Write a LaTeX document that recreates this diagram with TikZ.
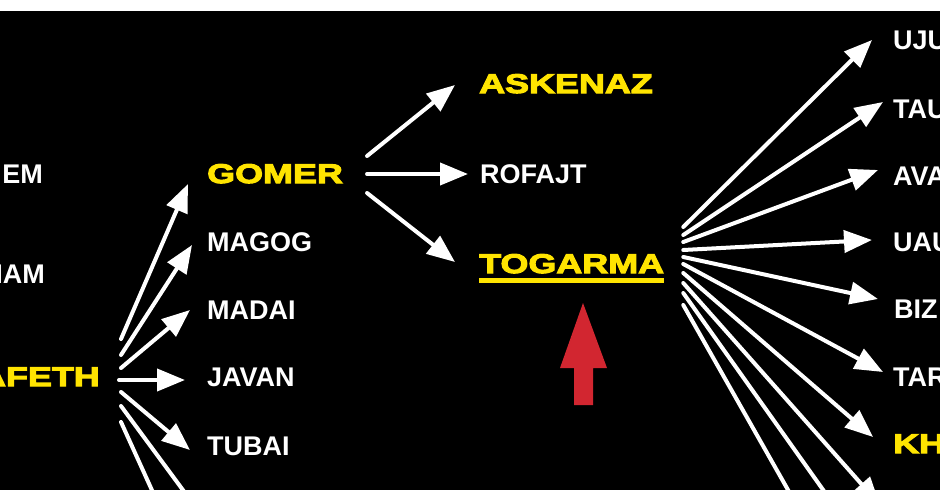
\documentclass[tikz,border=0pt]{standalone}
\usepackage{fontspec}
\setmainfont{Liberation Sans}
\newfontfamily\widebold[FakeStretch=1.33]{Liberation Sans Bold}
\newcommand\heavyink{\special{pdf:literal direct 2 Tr 1.1 w}}
\usetikzlibrary{arrows.meta}
\definecolor{namegold}{RGB}{255,228,0}
\definecolor{alarm}{RGB}{210,38,48}
\tikzstyle{person}=[anchor=base west,inner sep=0pt,text=white,font=\fontsize{27}{27}\selectfont\bfseries]
\tikzstyle{elder}=[person,text=namegold,font=\fontsize{27}{27}\selectfont\widebold\heavyink]
\tikzstyle{edge}=[draw,white,line width=4pt,line cap=round,->,>={Triangle[length=28pt,width=22pt]}]
\begin{document}
\begin{tikzpicture}[x=1pt,y=-1pt]
      \clip (0,0) rectangle (940,490);
      \fill[white] (0,0) rectangle (940,11);
      \fill[black] (0,11) rectangle (940,490);
      % left column, cut at the edge
      \node[person,anchor=base east] (sem) at (43,183) {EM};
      \node[person,anchor=base east] (ham) at (45,283) {IAM};
      \node[elder,anchor=base east] (jafeth) at (100,386) {AFETH};
      % sons of jafeth
      \node[elder] (gomer) at (207,183) {GOMER};
      \node[person] (magog) at (207,251) {MAGOG};
      \node[person] (madai) at (207,319) {MADAI};
      \node[person] (javan) at (207,386) {JAVAN};
      \node[person] (tubai) at (207,455) {TUBAI};
      \coordinate (jaf6) at (205,520);
      \coordinate (jaf7) at (195,585);
      % sons of gomer
      \node[elder] (askenaz) at (479,93) {ASKENAZ};
      \node[person] (rofajt) at (480,183) {ROFAJT};
      \node[elder] (togarma) at (479,273) {TOGARMA};
      \draw[namegold,line width=5pt] ([yshift=-7.5pt]togarma.base west) -- ([yshift=-7.5pt]togarma.base east);
      % sons of togarma, cut at the edge
      \node[person] (uju) at (893,49) {UJU};
      \node[person] (tau) at (893,118) {TAU};
      \node[person] (ava) at (893,185) {AVA};
      \node[person] (uau) at (893,251) {UAU};
      \node[person] (biz) at (894,318) {BIZ};
      \node[person] (tar) at (893,386) {TAR};
      \node[elder] (kh) at (893,453) {KH};
      \coordinate (tog8) at (880,505);
      \coordinate (tog9) at (880,570);
      \coordinate (tog10) at (873,640);
      \draw[edge] ([xshift=21pt,yshift=47pt]jafeth.base east) to ([xshift=-19pt,yshift=-1pt]gomer.base west);
      \draw[edge] ([xshift=21pt,yshift=31pt]jafeth.base east) to ([xshift=-15pt,yshift=6pt]magog.base west);
      \draw[edge] ([xshift=21pt,yshift=18pt]jafeth.base east) to ([xshift=-17pt,yshift=9pt]madai.base west);
      \draw[edge] ([xshift=19pt,yshift=6pt]jafeth.base east) to ([xshift=-22pt,yshift=6pt]javan.base west);
      \draw[edge] ([xshift=21pt,yshift=-6pt]jafeth.base east) to ([xshift=-17pt,yshift=5pt]tubai.base west);
      \draw[edge] ([xshift=21pt,yshift=-20pt]jafeth.base east) to (jaf6);
      \draw[edge] ([xshift=21pt,yshift=-36pt]jafeth.base east) to (jaf7);
      \draw[edge] ([xshift=24pt,yshift=27pt]gomer.base east) to ([xshift=-24pt,yshift=8pt]askenaz.base west);
      \draw[edge] ([xshift=24pt,yshift=9pt]gomer.base east) to ([xshift=-12pt,yshift=9pt]rofajt.base west);
      \draw[edge] ([xshift=24pt,yshift=-10pt]gomer.base east) to ([xshift=-24pt,yshift=11pt]togarma.base west);
      \draw[edge] ([xshift=19pt,yshift=46pt]togarma.base east) to ([xshift=-21pt,yshift=9pt]uju.base west);
      \draw[edge] ([xshift=19pt,yshift=38pt]togarma.base east) to ([xshift=-10pt,yshift=16pt]tau.base west);
      \draw[edge] ([xshift=19pt,yshift=31pt]togarma.base east) to ([xshift=-15pt,yshift=15pt]ava.base west);
      \draw[edge] ([xshift=19pt,yshift=23pt]togarma.base east) to ([xshift=-21pt,yshift=11pt]uau.base west);
      \draw[edge] ([xshift=19pt,yshift=16pt]togarma.base east) to ([xshift=-16pt,yshift=19pt]biz.base west);
      \draw[edge] ([xshift=19pt,yshift=9pt]togarma.base east) to ([xshift=-10pt,yshift=14pt]tar.base west);
      \draw[edge] ([xshift=19pt,yshift=0pt]togarma.base east) to ([xshift=-20pt,yshift=16pt]kh.base west);
      \draw[edge] ([xshift=19pt,yshift=-10pt]togarma.base east) to (tog8);
      \draw[edge] ([xshift=19pt,yshift=-20pt]togarma.base east) to (tog9);
      \draw[edge] ([xshift=19pt,yshift=-32pt]togarma.base east) to (tog10);
      % red pointer under togarma
      \fill[alarm] (583,303) -- (607,368) -- (593,368) -- (593,405) -- (574,405) -- (574,368) -- (560,368) -- cycle;
    \end{tikzpicture}
\end{document}
